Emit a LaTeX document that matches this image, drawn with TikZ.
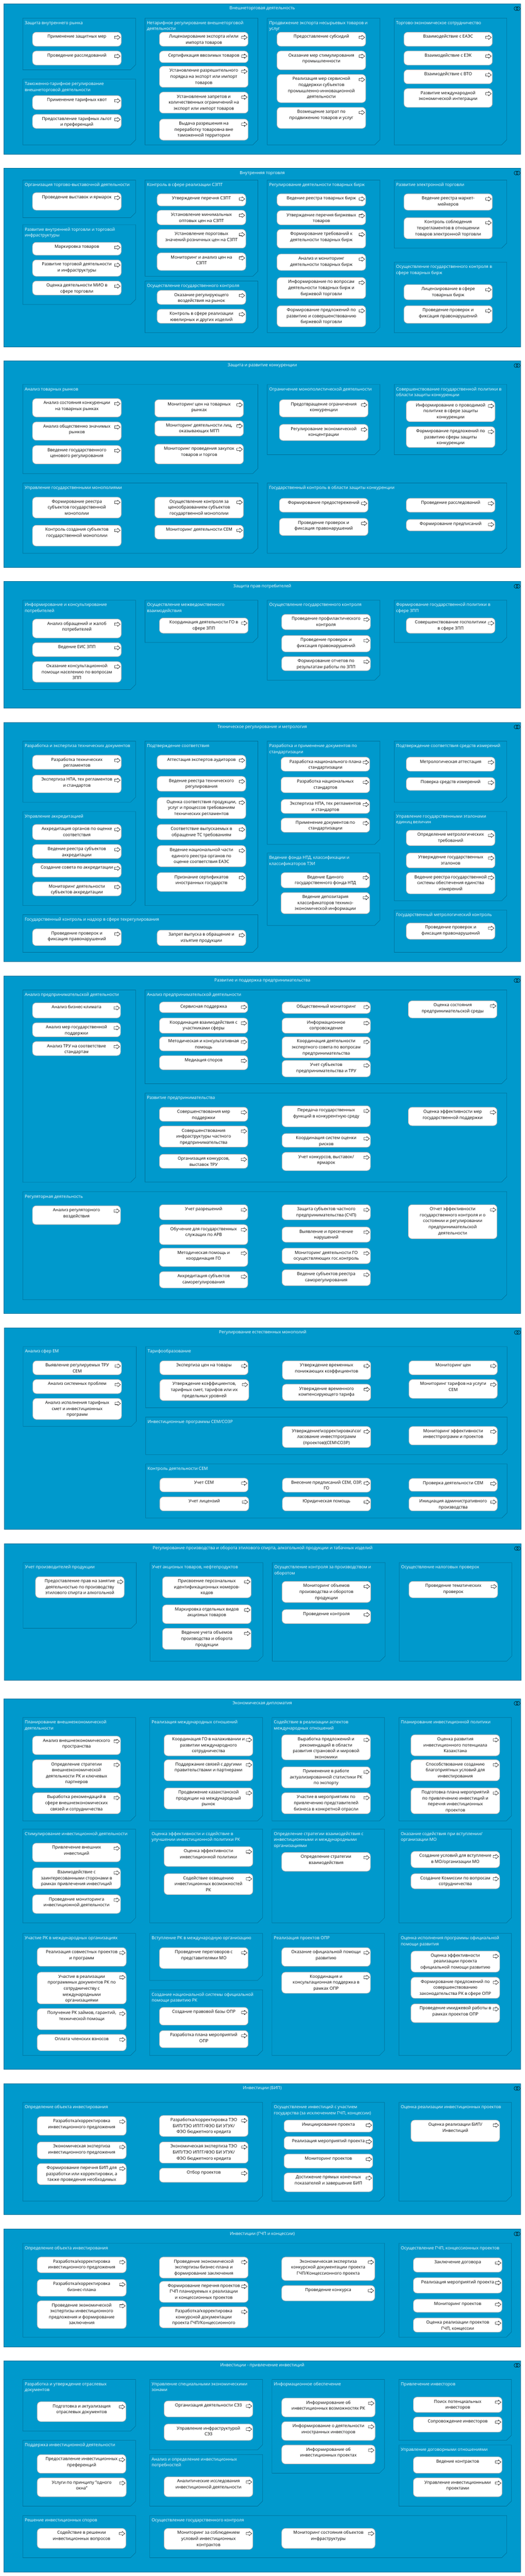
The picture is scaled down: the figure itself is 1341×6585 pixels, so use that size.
\documentclass[tikz,border=0pt]{standalone}
\usepackage{fontspec}
\setmainfont{Open Sans}
\newcounter{nid}
\definecolor{panelblue}{HTML}{0099CC}
\definecolor{panelline}{HTML}{006E96}
\definecolor{boxline}{HTML}{B4B4B4}
\def\xs{1.168}
\def\yo{0}\def\ys{1}
\newcommand\setmap[2]{\def\yo{#1}\def\ys{#2}}
\tikzset{
  panelshape/.style={draw=panelline,fill=panelblue,line width=1pt},
  groupshape/.style={draw=panelline,fill=panelblue,line width=.9pt},
  fnshape/.style={draw=boxline,fill=white,line width=1.1pt,rounded corners=9.5pt,inner sep=0pt,outer sep=0pt,anchor=north west},
  iconshape/.style={draw=black,fill=white,line width=.7pt},
  ringshape/.style={draw=black,line width=.7pt},
  labelbase/.style={inner sep=0pt,outer sep=0pt,font=\fontsize{11}{15.3}\selectfont},
  paneltitle/.style={labelbase,text=white,anchor=north,align=center},
  grouptitle/.style={labelbase,text=white,anchor=north west,align=left},
  fntext/.style={labelbase,text=black,anchor=north,align=center},
}
% outer panel: real pixels
\newcommand\panelbox[5]{%
  \stepcounter{nid}%
  \draw[panelshape] (#1,#2) rectangle (#3,#4);
  \pgfmathsetmacro\xm{(#1+#3)/2}%
  \node[paneltitle] (pt\thenid) at (\xm,#2+4) {\rule{0pt}{11pt}#5};
  \draw[ringshape] (#3-12,#2+12) circle (5);
  \draw[ringshape] (#3-6.5,#2+12) circle (5);
}
% group: display coordinates through the map
\newcommand\grp[5]{%
  \stepcounter{nid}%
  \pgfmathsetmacro\xa{#1/\xs}\pgfmathsetmacro\xb{#3/\xs}%
  \pgfmathsetmacro\ya{\yo+#2/\ys}\pgfmathsetmacro\yb{\yo+#4/\ys}%
  \draw[groupshape] (\xa,\ya) -- (\xb,\ya) -- (\xb,\yb-13) -- (\xb-13,\yb) -- (\xa,\yb) -- cycle;
  \node[grouptitle] (gt\thenid) at (\xa+5,\ya+4.7) {\rule{0pt}{11pt}#5};
}
% function box
\newcommand\fb[5]{%
  \stepcounter{nid}%
  \pgfmathsetmacro\xa{#1/\xs}\pgfmathsetmacro\xb{#3/\xs}%
  \pgfmathsetmacro\ya{\yo+#2/\ys}\pgfmathsetmacro\yb{\yo+#4/\ys}%
  \pgfmathsetmacro\xm{(\xa+\xb)/2}\pgfmathsetmacro\bw{\xb-\xa}\pgfmathsetmacro\bh{\yb-\ya}%
  \node[fnshape,minimum width=\bw pt,minimum height=\bh pt] (fb\thenid) at (\xa,\ya) {};
  \node[fntext] (ft\thenid) at (\xm,\ya+4) {\rule{0pt}{11pt}#5};
  \draw[iconshape] (\xb-17,\ya+10.2) -- (\xb-9.5,\ya+10.2) -- (\xb-9.5,\ya+7.8) -- (\xb-2.8,\ya+13.2) -- (\xb-9.5,\ya+18.6) -- (\xb-9.5,\ya+16.2) -- (\xb-17,\ya+16.2) -- cycle;
}
\begin{document}
\begin{tikzpicture}[x=1pt,y=-1pt]
\useasboundingbox (0,0) rectangle (1341,6585);
\fill[white] (0,0) rectangle (1341,6585);

% ---------- 1
\panelbox{10}{10}{1331}{394}{Внешнеторговая деятельность}
\setmap{0}{3}
\grp{68}{139}{405}{535}{Защита внутреннего рынка}
\fb{97}{247}{362}{355}{Применение защитных мер}
\fb{97}{391}{362}{499}{Проведение расследований}
\grp{68}{607}{405}{1111}{Таможенно-тарифное регулирование\\внешнеторговой деятельности}
\fb{97}{733}{362}{841}{Применение тарифных квот}
\fb{97}{877}{362}{985}{Предоставление тарифных льгот\\и преференций}
\grp{433}{139}{770}{1111}{Нетарифное регулирование внешнеторговой\\деятельности}
\fb{476}{247}{741}{355}{Лицензирование экспорта и/или\\импорта товаров}
\fb{476}{391}{741}{481}{Сертификация ввозимых товаров}
\fb{476}{508}{741}{670}{Установление разрешительного\\порядка на экспорт или импорт\\товаров}
\fb{476}{706}{741}{868}{Установление запретов и\\количественных ограничений на\\экспорт или импорт товаров}
\fb{476}{913}{741}{1075}{Выдача разрешения на\\переработку товаровна вне\\таможенной территории}
\grp{798}{139}{1134}{1111}{Продвижение экспорта несырьевых товаров и\\услуг}
\fb{827}{247}{1092}{355}{Предоставление субсидий}
\fb{827}{391}{1092}{535}{Оказание мер стимулирования\\промышленности}
\fb{827}{571}{1092}{787}{Реализация мер сервисной\\поддержки субъектов\\промышленно-инновационной\\деятельности}
\fb{827}{823}{1092}{985}{Возмещение затрат по\\продвижению товаров и услуг}
\grp{1177}{139}{1513}{1111}{Торгово-экономическое сотрудничество}
\fb{1206}{247}{1470}{355}{Взаимодействие с ЕАЭС}
\fb{1206}{391}{1470}{499}{Взаимодействие с ЕЭК}
\fb{1206}{535}{1470}{643}{Взаимодействие с ВТО}
\fb{1206}{679}{1470}{823}{Развитие международной\\экономической интеграции}

% ---------- 2
\panelbox{10}{430.3}{1331}{886.7}{Внутренняя торговля}
\setmap{400}{3}
\grp{68}{181}{405}{469}{Организация торгово-выставочной деятельности}
\fb{97}{277}{362}{412}{Проведение выставок и ярмарок}
\grp{68}{523}{405}{1135}{Развитие внутренней торговли и торговой\\инфраструктуры}
\fb{97}{658}{362}{757}{Маркировка товаров}
\fb{97}{793}{362}{919}{Развитие торговой деятельности\\и инфраструктуры}
\fb{97}{955}{362}{1063}{Оценка деятельности МИО в\\сфере торговли}
\grp{433}{181}{770}{919}{Контроль в сфере реализации СЗПТ}
\fb{469}{286}{734}{380}{Утверждение перечня СЗПТ}
\fb{469}{412}{734}{524}{Установление минимальных\\оптовых цен на СЗПТ}
\fb{469}{559}{734}{703}{Установление пороговых\\значений розничных цен на СЗПТ}
\fb{469}{739}{734}{874}{Мониторинг и анализ цен на\\СЗПТ}
\grp{433}{955}{770}{1351}{Осуществление государственного контроля}
\fb{469}{1027}{734}{1135}{Оказание регулирующего\\воздействия на рынок}
\fb{469}{1171}{734}{1279}{Контроль в сфере реализации\\ювелирных и других изделий}
\grp{798}{181}{1134}{1351}{Регулирование деятельности товарных бирж}
\fb{827}{286}{1092}{380}{Ведение реестра товарных бирж}
\fb{827}{415}{1092}{524}{Утверждение перечня биржевых\\товаров}
\fb{827}{559}{1092}{703}{Формирование требований к\\деятельности товарных бирж}
\fb{827}{748}{1092}{874}{Анализ и мониторинг\\деятельности товарных бирж}
\fb{827}{928}{1092}{1090}{Информирование по вопросам\\деятельности товарных бирж и\\биржевой торговли}
\fb{827}{1144}{1092}{1306}{Формирование предложений по\\развитию и совершенствованию\\биржевой торговли}
\grp{1177}{181}{1513}{703}{Развитие электронной торговли}
\fb{1206}{286}{1470}{412}{Ведение реестра маркет-\\мейкеров}
\fb{1206}{469}{1470}{631}{Контроль соблюдения\\техрегламентов в отношении\\товаров электронной торговли}
\grp{1177}{811}{1513}{1351}{Осуществление государственного контроля в\\сфере товарных бирж}
\fb{1206}{982}{1470}{1099}{Лицензирование в сфере\\товарных бирж}
\fb{1206}{1144}{1470}{1279}{Проведение проверок и\\фиксация правонарушений}

% ---------- 3
\panelbox{10}{922.4}{1331}{1450.5}{Защита и развитие конкуренции}
\setmap{900}{1.742}
\grp{68}{144}{770}{541}{Анализ товарных рынков}
\fb{97}{207}{362}{289}{Анализ состояния конкуренции\\на товарных рынках}
\fb{97}{311}{362}{393}{Анализ общественно значимых\\рынков}
\fb{97}{416}{362}{498}{Введение государственного\\ценового регулирования}
\fb{462}{212}{727}{289}{Мониторинг цен на товарных\\рынках}
\fb{462}{306}{727}{374}{Мониторинг деятельности лиц,\\оказывающих МГП}
\fb{462}{410}{727}{498}{Мониторинг проведения закупок\\товаров и торгов}
\grp{798}{144}{1134}{457}{Ограничение монополистической деятельности}
\fb{834}{212}{1099}{289}{Предотвращение ограничения\\конкуренции}
\fb{834}{322}{1099}{394}{Регулирование экономической\\концентрации}
\grp{1177}{144}{1513}{457}{Совершенствование государственной политики в\\области защиты конкуренции}
\fb{1213}{217}{1478}{310}{Информирование о проводимой\\политике в сфере защиты\\конкуренции}
\fb{1213}{332}{1478}{425}{Формирование предложений по\\развитию сферы защиты\\конкуренции}
\grp{68}{583}{770}{896}{Управление государственными монополиями}
\fb{97}{646}{362}{739}{Формирование реестра\\субъектов государственной\\монополии}
\fb{97}{771}{362}{864}{Контроль создания субъектов\\государственной монополии}
\fb{462}{646}{727}{739}{Осуществление контроля за\\ценообраованием субъектов\\государтвенной монополии}
\fb{462}{771}{727}{833}{Мониторинг деятельности СЕМ}
\grp{798}{583}{1513}{896}{Государственный контроль в области защиты конкуренции}
\fb{834}{651}{1099}{713}{Формирование предостережений}
\fb{834}{740}{1099}{817}{Проведение проверок и\\фиксация правонарушений}
\fb{1213}{651}{1478}{713}{Проведение расследований}
\fb{1213}{745}{1478}{796}{Формирование предписаний}

% ---------- 4
\panelbox{10}{1486.7}{1331}{1810.3}{Защита прав потребителей}
\grp{68}{1105}{405}{1503}{Информирование и консультирование\\потребителей}
\fb{97}{1189}{362}{1273}{Анализ обращений и жалоб\\потребителей}
\fb{97}{1294}{362}{1356}{Ведение ЕИС ЗПП}
\fb{97}{1378}{362}{1470}{Оказание консультационной\\помощи населению по вопросам\\ЗПП}
\grp{433}{1105}{770}{1293}{Осуществление межведомственного\\взаимодействия}
\fb{476}{1184}{741}{1252}{Координация деятельности ГО в\\сфере ЗПП}
\grp{798}{1105}{1134}{1461}{Осуществление государственного контроля}
\fb{841}{1168}{1106}{1236}{Проведение профилактического\\контроля}
\fb{841}{1262}{1106}{1335}{Проведение проверок и\\фиксация правонарушений}
\fb{841}{1356}{1106}{1419}{Формирование отчетов по\\результатам работы по ЗПП}
\grp{1177}{1105}{1513}{1293}{Формирование государственной политики в\\сфере ЗПП}
\fb{1213}{1184}{1478}{1252}{Совершенствование госполитики\\в сфере ЗПП}

% ---------- 5
\panelbox{10}{1846.3}{1331}{2457.6}{Техническое регулирование и метрология}
\setmap{1800}{2.613}
\grp{68}{247}{405}{655}{Разработка и экспертиза технических документов}
\fb{97}{341}{362}{435}{Разработка технических\\регламентов}
\fb{97}{474}{362}{592}{Экспертиза НПА, тех регламентов\\и стандартов}
\grp{68}{717}{405}{1345}{Управление аккредитацией}
\fb{97}{803}{362}{906}{Аккредитация органов по оценке\\соответствия}
\fb{97}{937}{362}{1031}{Ведение реестра субъектов\\аккредитации}
\fb{97}{1062}{362}{1156}{Создание совета по аккредитации}
\fb{97}{1187}{362}{1281}{Мониторинг деятельности\\субъектов аккредитации}
\grp{433}{247}{770}{1345}{Подтверждение соответствия}
\fb{469}{341}{734}{435}{Аттестация экспертов аудиторов}
\fb{469}{482}{734}{582}{Ведение реестра технического\\регулирования}
\fb{469}{623}{734}{765}{Оценка соответствия продукции,\\услуг и процессов требованиям\\технических регламентов}
\fb{469}{803}{734}{906}{Соответствие выпускаемых в\\обращение ТС требованиям}
\fb{469}{944}{734}{1086}{Ведение национальной части\\единого реестра органов по\\оценке соответствия ЕАЭС}
\fb{469}{1125}{734}{1251}{Признание сертификатов\\иностранных государств}
\grp{798}{247}{1134}{937}{Разработка и применение документов по\\стандартизации}
\fb{839}{354}{1104}{448}{Разработка национального плана\\стандартизации}
\fb{839}{487}{1104}{592}{Разработка национальных\\стандартов}
\fb{839}{636}{1104}{730}{Экспертиза НПА, тех регламентов\\и стандартов}
\fb{839}{761}{1104}{856}{Применение документов по\\стандартизации}
\grp{798}{994}{1134}{1478}{Ведение фонда НТД, классификации и\\классификаторов ТЭИ}
\fb{839}{1125}{1104}{1227}{Ведение Единого\\государственного фонда НТД}
\fb{839}{1258}{1104}{1400}{Ведение депозитария\\классификаторов технико-\\экономической информации}
\grp{1177}{247}{1513}{655}{Подтверждение соответствия средств измерений}
\fb{1213}{354}{1478}{448}{Метрологическая аттестация}
\fb{1213}{490}{1478}{576}{Поверка средств измерений}
\grp{1177}{717}{1513}{1313}{Управление государственными эталонами\\единиц величин}
\fb{1213}{842}{1478}{945}{Определение метрологических\\требований}
\fb{1213}{994}{1478}{1094}{Утверждение государственных\\эталонов}
\fb{1213}{1125}{1478}{1267}{Ведение реестра государственной\\системы обеспечения единства\\измерений}
\setmap{0}{1}
\grp{1177}{2326.6}{1513}{2434.4}{Государственный метрологический контроль}
\fb{1213}{2359.5}{1478}{2401}{Проведение проверок и\\фиксация правонарушений}
\grp{68}{2338.4}{770}{2434.4}{Государственный контроль и надзор в сфере техрегулирования}
\fb{97}{2374.4}{362}{2417.4}{Проведение проверок и\\фиксация правонарушений}
\fb{469}{2377.5}{734}{2417.4}{Запрет выпуска в обращение и\\изъятие продукции}

% ---------- 6
\panelbox{10}{2494.5}{1331}{3357.6}{Развитие и поддержка предпринимательства}
\setmap{2400}{2.412}
\grp{68}{315}{405}{1501}{Анализ предпринимательской деятельности}
\fb{97}{394}{360}{488}{Анализ бизнес-климата}
\fb{97}{517}{360}{604}{Анализ мер государственной\\поддержки}
\fb{97}{633}{360}{720}{Анализ ТРУ на соответствие\\стандартам}
\grp{433}{315}{1513}{893}{Анализ предпринимательской деятельности}
\fb{476}{389}{740}{455}{Сервисная поддержка}
\fb{476}{488}{740}{582}{Координация взаимодействия с\\участниками сферы}
\fb{476}{604}{740}{691}{Методическая и консультативная\\помощь}
\fb{476}{720}{740}{807}{Медиация споров}
\fb{842}{389}{1106}{460}{Общественный мониторинг}
\fb{842}{488}{1106}{582}{Информационное\\сопровождение}
\fb{842}{604}{1106}{734}{Координация деятельности\\экспертного совета по вопросам\\предпринимательства}
\fb{842}{749}{1106}{851}{Учет субъектов\\предпринимательства и ТРУ}
\fb{1219}{382}{1484}{488}{Оценка состояния\\предпринимательской среды}
\grp{433}{951}{1513}{1499}{Развитие предпринимательства}
\fb{476}{1038}{740}{1125}{Совершенствования мер\\поддержки}
\fb{476}{1154}{740}{1284}{Совершенствования\\инфраструктуры частного\\предпринимательства}
\fb{476}{1328}{740}{1415}{Организация конкурсов,\\выставок ТРУ}
\fb{842}{1029}{1106}{1159}{Передача государственных\\функций в конкурентную среду}
\fb{842}{1200}{1106}{1285}{Координация систем оценки\\рисков}
\fb{842}{1316}{1106}{1429}{Учет конкурсов, выставок/\\ярмарок}
\fb{1219}{1038}{1484}{1152}{Оценка эффективности мер\\государственной поддержки}
\setmap{0}{1}
\grp{68}{3046.3}{1513}{3322.3}{Регуляторная деятельность}
\setmap{3050}{2.24}
\fb{97}{72}{360}{180}{Анализ регуляторного\\воздействия}
\fb{476}{66}{740}{153}{Учет разрешений}
\fb{476}{180}{740}{295}{Обучение для государственных\\служащих по АРВ}
\fb{476}{315}{740}{420}{Методическая помощь и\\координация ГО}
\fb{476}{449}{740}{543}{Аккредитация субъектов\\саморегулирования}
\fb{842}{66}{1106}{153}{Защита субъектов частного\\предпринимательства (СЧП)}
\fb{842}{194}{1106}{281}{Выявление и пресечение\\нарушений}
\fb{842}{315}{1106}{404}{Мониторинг деятельности ГО\\осуществляющих гос.контроль}
\fb{842}{438}{1106}{530}{Ведение субъектов реестра\\саморегулирования}
\fb{1219}{66}{1484}{261}{Отчет эффективности\\государственного контроля и о\\состоянии и регулировании\\предпринимательской\\деятельности}

% ---------- 7
\panelbox{11}{3394.2}{1332}{3909.7}{Регулирование естественных монополий}
\grp{69}{879}{407}{1336}{Анализ сфер ЕМ}
\fb{98}{960}{363}{1040}{Выявление регулируемых ТРУ\\СЕМ}
\fb{98}{1067}{363}{1148}{Анализ системных проблем}
\fb{98}{1175}{363}{1296}{Анализ исполнения тарифных\\смет и инвестиционных\\программ}
\grp{435}{879}{1514}{1229}{Тарифообразование}
\fb{477}{960}{741}{1040}{Экспертиза цен на товары}
\fb{477}{1067}{743}{1188}{Утверждение коэффициентов,\\тарифных смет, тарифов или их\\предельных уровней}
\fb{843}{960}{1107}{1067}{Утверждение временных\\понижающих коэффициентов}
\fb{843}{1094}{1107}{1188}{Утверждение временного\\компенсирующего тарифа}
\fb{1221}{960}{1485}{1040}{Мониторинг цен}
\fb{1221}{1067}{1485}{1175}{Мониторинг тарифов на услуги\\СЕМ}
\grp{435}{1282}{1514}{1497}{Инвестиционные программы СЕМ/СОЗР}
\fb{843}{1336}{1107}{1457}{Утверждение\textbackslash корректировка\textbackslash сог\\ласование инвестпрограмм\\(проектов)(СЕМ\textbackslash СОЗР)}
\fb{1221}{1336}{1485}{1442}{Мониторинг эффективности\\инвестпрограмм и проектов}
\setmap{0}{1}
\grp{435}{3742.4}{1514}{3880.3}{Контроль деятельности СЕМ}
\setmap{3750}{3}
\fb{477}{85}{741}{191}{Учет СЕМ}
\fb{477}{229}{743}{337}{Учет лицензий}
\fb{843}{85}{1107}{193}{Внесение предписаний СЕМ, ОЗР,\\ГО}
\fb{843}{229}{1107}{337}{Юридическая помощь}
\fb{1221}{88}{1485}{187}{Проверка деятельности СЕМ}
\fb{1221}{229}{1485}{337}{Инициация административного\\производства}

% ---------- 8
\panelbox{11}{3946.3}{1332}{4294.8}{Регулирование производства и оборота этилового спирта, алкогольной продукции и табачных изделий}
\grp{69}{733}{407}{1237}{Учет производителей продукции}
\fb{106}{841}{371}{1003}{Предоставление прав на занятие\\деятельностью по производству\\этилового спирта и алкогольной}
\grp{448}{733}{785}{1489}{Учет акцизных товаров, нефтепродуктов}
\fb{485}{841}{750}{1003}{Присвоение персональных\\идентификационных номеров-\\кодов}
\fb{485}{1057}{750}{1201}{Маркировка отдельных видов\\акцизных товаров}
\fb{485}{1237}{750}{1399}{Ведение учета объемов\\производства и оборота\\продукции}
\grp{813}{733}{1150}{1489}{Осуществление контроля за производством и\\оборотом}
\fb{842}{877}{1107}{1039}{Мониторинг объемов\\производства и оборотов\\продукции}
\fb{842}{1093}{1107}{1201}{Проведение контроля}
\grp{1192}{733}{1528}{1489}{Осуществление налоговых проверок}
\fb{1221}{877}{1486}{1003}{Проведение тематических\\проверок}

% ---------- 9
\panelbox{10}{4342.2}{1331}{5289.7}{Экономическая дипломатия}
\setmap{4250}{2.613}
\grp{68}{367}{405}{1057}{Планирование внешнеэкономической\\деятельности}
\fb{97}{491}{360}{615}{Анализ внешнеэкономического\\пространства}
\fb{97}{649}{360}{837}{Определение стратегии\\внешнеэкономической\\деятельности РК и ключевых\\партнеров}
\fb{97}{869}{360}{1010}{Выработка рекомендаций в\\сфере внешнеэкономических\\связей и сотрудничества}
\grp{447}{367}{784}{1057}{Реализация международных отношений}
\fb{490}{482}{755}{623}{Координация ГО в налаживании и\\развитии международного\\сотрудничества}
\fb{490}{649}{755}{790}{Поддержание связей с другими\\правительствами и партнерами}
\fb{490}{837}{755}{978}{Продвижение казахстанской\\продукции на международный\\рынок}
\grp{812}{367}{1148}{1057}{Содействие в реализации аспектов\\международных отношений}
\fb{841}{482}{1106}{650}{Выработка предложений и\\рекомендаций в области\\развития страновой и мировой\\экономики}
\fb{841}{696}{1106}{837}{Применение в работе\\актуализированной статистики РК\\по экспорту}
\fb{841}{869}{1106}{1010}{Участие в мероприятиях по\\привлечению представителей\\бизнеса в конкретной отрасли}
\grp{1191}{367}{1527}{1057}{Планирование инвестиционной политики}
\fb{1227}{482}{1492}{623}{Оценка развития\\инвестиционного потенциала\\Казахстана}
\fb{1227}{649}{1492}{790}{Способствование созданию\\благоприятных условий для\\инвестирования}
\fb{1227}{837}{1492}{1010}{Подготовка плана мероприятий\\по привлечению инвестиций и\\перечня инвестиционных\\проектов}
\setmap{0}{1}
\grp{68}{4675.6}{405}{4915.4}{Стимулирование инвестиционной деятельности}
\grp{447}{4675.6}{784}{4915.4}{Оценка эффективности и содействие в\\улучшении инвестиционной политики РК}
\grp{812}{4675.6}{1148}{4915.4}{Определение стратегии взаимодействия с\\инвестиционными и международными\\организациями}
\grp{1191}{4675.6}{1527}{4915.4}{Оказание содействия при вступлении/\\организации МО}
\fb{97}{4843.6}{360}{4891.3}{Проведение мониторинга\\инвестиционной деятельности}
\setmap{4250}{2.613}
\fb{97}{1206}{360}{1331}{Привлечение внешних\\инвестиций}
\fb{97}{1370}{360}{1511}{Взаимодействие с\\заинтересованными сторонами в\\рамках привлечения инвестиций}
\fb{490}{1229}{755}{1362}{Оценка эффективности\\инвестиционной политики}
\fb{490}{1410}{755}{1550}{Содействие освещению\\инвестиционных возможностей\\РК}
\fb{841}{1268}{1106}{1394}{Определение стратегии\\взаимодействия}
\fb{1227}{1261}{1492}{1370}{Создание условий для вступление\\в МО/организации МО}
\fb{1227}{1410}{1492}{1511}{Создание Комиссии по вопросам\\сотрудничества}
\setmap{4850}{2.613}
\grp{68}{241}{405}{1057}{Участие РК в международных организациях}
\fb{111}{336}{377}{461}{Реализация совместных проектов\\и программ}
\fb{111}{500}{377}{712}{Участие в реализации\\программных документов РК по\\сотрудничеству с\\международными\\организациями}
\fb{111}{743}{377}{885}{Получение РК займов, гарантий,\\технической помощи}
\fb{111}{916}{377}{1025}{Оплата членских взносов}
\grp{447}{241}{784}{555}{Вступление РК в международную организацию}
\fb{476}{336}{741}{476}{Проведение переговоров с\\представителями МО}
\grp{447}{618}{784}{1057}{Создание национальной системы официальной\\помощи развитию РК}
\fb{476}{735}{741}{854}{Создание правовой базы ОПР}
\fb{476}{890}{741}{1005}{Разработка плана мероприятий\\ОПР}
\grp{812}{241}{1148}{1057}{Реализация проектов ОПР}
\fb{841}{336}{1106}{461}{Оказание официальной помощи\\развитию}
\fb{841}{500}{1106}{641}{Координация и\\консультационная поддержка в\\рамках ОПР}
\grp{1191}{241}{1527}{1057}{Оценка исполнения программы официальной\\помощи развития}
\fb{1227}{359}{1492}{500}{Оценка эффективности\\реализации проекта\\официальной помощи развитию}
\fb{1227}{534}{1492}{675}{Формирование предложений по\\совершенствованию\\законодательства РК в сфере ОПР}
\fb{1227}{712}{1492}{837}{Проведение имиджевой работы в\\рамках проектов ОПР}

% ---------- 10
\panelbox{10}{5326.5}{1331}{5661.3}{Инвестиции (БИП)}
\setmap{0}{1}
\grp{68}{5374.3}{784}{5626.4}{Определение объекта инвестирования}
\grp{812}{5374.3}{1148}{5626.4}{Осуществление инвестиций с участием\\государства (за исключением ГЧП, концессии)}
\grp{1191}{5374.3}{1527}{5626.4}{Оценка реализации инвестиционных проектов}
\fb{111}{5410.3}{377}{5458.4}{Разработка/корректировка\\инвестиционного предложения}
\fb{476}{5407.6}{741}{5461.5}{Разработка/корректировка ТЭО\\БИП/ТЭО ИПГГ/ФЭО БИ УГУК/\\ФЭО бюджетного кредита}
\fb{848}{5419.4}{1113}{5450}{Инициирование проекта}
\fb{1227}{5419.4}{1492}{5474.5}{Оценка реализации БИП/\\Инвестиций}
\setmap{5450}{2.613}
\fb{111}{66}{377}{179}{Экономическая экспертиза\\инвестиционного предложения}
\fb{111}{210}{377}{352}{Формирование перечня БИП для\\разработки или корректировки, а\\также проведения необходимых}
\fb{476}{66}{741}{208}{Экономическая экспертиза ТЭО\\БИП/ТЭО ИПГГ/ФЭО БИ УГУК/\\ФЭО бюджетного кредита}
\fb{476}{241}{741}{336}{Отбор проектов}
\fb{848}{30}{1113}{116}{Реализация мероприятий проекта}
\fb{848}{147}{1113}{241}{Мониторинг проектов}
\fb{848}{273}{1113}{399}{Достижение прямых конечных\\показателей и завершение БИП}

% ---------- 11
\panelbox{10}{5698.4}{1331}{5998.8}{Инвестиции (ГЧП и концессии)}
\grp{68}{743}{1148}{1370}{Определение объекта инвестирования}
\fb{111}{835}{377}{940}{Разработка/корректировка\\инвестиционного предложения}
\fb{111}{984}{377}{1097}{Разработка/корректировка\\бизнес-плана}
\fb{111}{1127}{377}{1313}{Проведение экономической\\экспертизы инвестиционного\\предложения и формирование\\заключения}
\fb{476}{835}{741}{976}{Проведение экономической\\экспертизы бизнес-плана и\\формирование заключения}
\fb{476}{997}{741}{1138}{Формирование перечня проектов\\ГЧП планируемых к реализации\\и концессионных проектов}
\fb{476}{1167}{741}{1308}{Разработка/корректировка\\конкурсной документации\\проекта ГЧП/Концессионного}
\fb{841}{835}{1119}{992}{Экономическая экспертиза\\конкурсной документации проекта\\ГЧП/Концессионного проекта}
\fb{841}{1025}{1119}{1128}{Проведение конкурса}
\grp{1191}{743}{1527}{1370}{Осуществление ГЧП, концессионных проектов}
\fb{1234}{840}{1499}{936}{Заключение договора}
\fb{1234}{973}{1499}{1076}{Реализация мероприятий проекта}
\fb{1234}{1117}{1499}{1204}{Мониторинг проектов}
\fb{1234}{1242}{1499}{1337}{Оценка реализации проектов\\ГЧП, концессии}

% ---------- 12
\panelbox{10}{6034.4}{1331}{6574.4}{Инвестиции - привлечение инвестиций}
\setmap{6050}{2.931}
\grp{68}{95}{405}{482}{Разработка и утверждение отраслевых\\документов}
\fb{111}{262}{376}{411}{Подготовка и актуализация\\отраслевых документов}
\grp{68}{552}{405}{1045}{Поддержка инвестиционной деятельности}
\fb{111}{658}{376}{798}{Предоставление инвестиционных\\преференций}
\fb{111}{833}{377}{974}{Услуги по принципу "одного\\окна"}
\grp{68}{1115}{405}{1431}{Решение инвестиционных споров}
\fb{111}{1211}{376}{1361}{Содействие в решении\\инвестиционных вопросов}
\grp{447}{95}{784}{622}{Управление специальными экономическими\\зонами}
\fb{490}{256}{755}{376}{Организация деятельности СЭЗ}
\fb{490}{429}{755}{552}{Управление инфраструктурой\\СЭЗ}
\grp{447}{658}{784}{1045}{Анализ и определение инвестиционных\\потребностей}
\fb{490}{825}{755}{974}{Аналитические исследования\\инвестиционной деятельности}
\grp{812}{95}{1148}{798}{Информационное обеспечение}
\fb{841}{235}{1120}{376}{Информирование об\\инвестиционных возможностях РК}
\fb{841}{411}{1120}{552}{Информирование о деятельности\\иностранных инвесторов}
\fb{841}{587}{1120}{728}{Информирование об\\инвестиционных проектах}
\grp{1191}{95}{1527}{552}{Привлечение инвесторов}
\fb{1234}{227}{1499}{342}{Поиск потенциальных\\инвесторов}
\fb{1234}{376}{1499}{490}{Сопровождение инвесторов}
\grp{1191}{587}{1527}{1045}{Управление договорными отношениями}
\fb{1234}{675}{1499}{798}{Ведение контрактов}
\fb{1234}{833}{1499}{974}{Управление инвестиционными\\проектами}
\grp{447}{1115}{1513}{1431}{Осуществление государственного контроля}
\fb{490}{1211}{755}{1369}{Мониторинг за соблюдением\\условий инвестиционных\\контрактов}
\fb{841}{1211}{1120}{1361}{Мониторинг состояния объектов\\инфраструктуры}
\end{tikzpicture}
\end{document}
